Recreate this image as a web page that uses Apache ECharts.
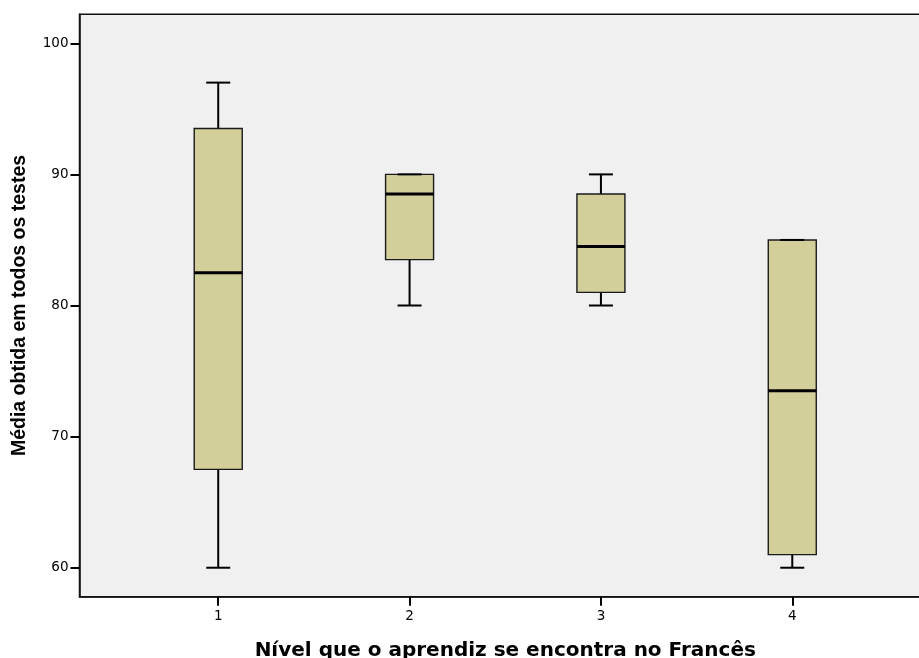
<!DOCTYPE html>
<html>
<head>
<meta charset="utf-8">
<script src="https://cdn.jsdelivr.net/npm/echarts@6/dist/echarts.min.js"></script>
<style>
  html, body { margin: 0; padding: 0; background: #ffffff; }
  #chart { width: 919px; height: 658px; }
</style>
</head>
<body>
<div id="chart"></div>
<script>
// Levels of French (x axis) and the five-number summary of each group
const levels = [1, 2, 3, 4];
const whiskerLow  = [60, 80, 80, 60];
const quartile1   = [67.5, 83.5, 81, 61];
const medians     = [82.5, 88.5, 84.5, 73.5];
const quartile3   = [93.5, 90, 88.5, 85];
const whiskerHigh = [97, 90, 90, 85];
const yTicks = [60, 70, 80, 90, 100];

const boxData = levels.map((lv, i) => [lv, whiskerLow[i], quartile1[i], medians[i], quartile3[i], whiskerHigh[i]]);

const BOX_HALF = 24;
const CAP_HALF = 12;
const FILL = '#d3cf9a';

function renderBox(params, api) {
  const x = api.value(0);
  const pLow = api.coord([x, api.value(1)]);
  const pQ1 = api.coord([x, api.value(2)]);
  const pMed = api.coord([x, api.value(3)]);
  const pQ3 = api.coord([x, api.value(4)]);
  const pHigh = api.coord([x, api.value(5)]);
  const cx = pMed[0];
  const line = (x1, y1, x2, y2, w) => ({
    type: 'line',
    shape: { x1, y1, x2, y2 },
    style: { stroke: '#000', lineWidth: w }
  });
  return {
    type: 'group',
    children: [
      line(cx, pQ3[1], cx, pHigh[1], 2),
      line(cx, pQ1[1], cx, pLow[1], 2),
      {
        type: 'rect',
        shape: { x: cx - BOX_HALF, y: pQ3[1], width: BOX_HALF * 2, height: pQ1[1] - pQ3[1] },
        style: { fill: FILL, stroke: '#1a1a1a', lineWidth: 1.4 }
      },
      line(cx - CAP_HALF, pHigh[1], cx + CAP_HALF, pHigh[1], 2),
      line(cx - CAP_HALF, pLow[1], cx + CAP_HALF, pLow[1], 2),
      line(cx - BOX_HALF, pMed[1], cx + BOX_HALF, pMed[1], 3)
    ]
  };
}

const chart = echarts.init(document.getElementById('chart'), null, { renderer: 'canvas' });
chart.setOption({
  animation: false,
  backgroundColor: '#ffffff',
  grid: {
    left: 79.5, right: -12, top: 14.3, bottom: 61.3,
    show: true,
    backgroundColor: '#f0f0f0',
    borderColor: '#111',
    borderWidth: 1.5,
    containLabel: false,
    outerBoundsMode: 'none'
  },
  xAxis: {
    type: 'value',
    min: 0.275,
    max: 4.725,
    name: 'Nível que o aprendiz se encontra no Francês',
    nameLocation: 'middle',
    nameGap: 44,
    nameTextStyle: { fontFamily: 'DejaVu Sans', fontWeight: 'bold', fontSize: 20, color: '#000' },
    axisLine: { show: true, onZero: false, lineStyle: { color: '#111', width: 1.5 } },
    axisTick: { show: true, length: 9, customValues: levels, lineStyle: { color: '#000', width: 2 } },
    axisLabel: { customValues: levels, margin: 13, fontFamily: 'DejaVu Sans', fontSize: 13.5, color: '#000' },
    splitLine: { show: false }
  },
  yAxis: {
    type: 'value',
    min: 57.79,
    max: 102.21,
    name: 'Média obtida em todos os testes',
    nameLocation: 'middle',
    nameRotate: 90,
    nameGap: 50,
    nameTextStyle: { fontFamily: 'Liberation Sans', fontWeight: 'bold', fontSize: 19.5, color: '#000' },
    axisLine: { show: true, onZero: false, lineStyle: { color: '#111', width: 1.5 } },
    axisTick: { show: true, length: 9, customValues: yTicks, lineStyle: { color: '#000', width: 2 } },
    axisLabel: { customValues: yTicks, margin: 11, fontFamily: 'DejaVu Sans', fontSize: 13.5, color: '#000' },
    splitLine: { show: false }
  },
  series: [{
    type: 'custom',
    renderItem: renderBox,
    encode: { x: 0, y: [1, 2, 3, 4, 5] },
    data: boxData,
    clip: false
  }]
});
</script>
</body>
</html>
